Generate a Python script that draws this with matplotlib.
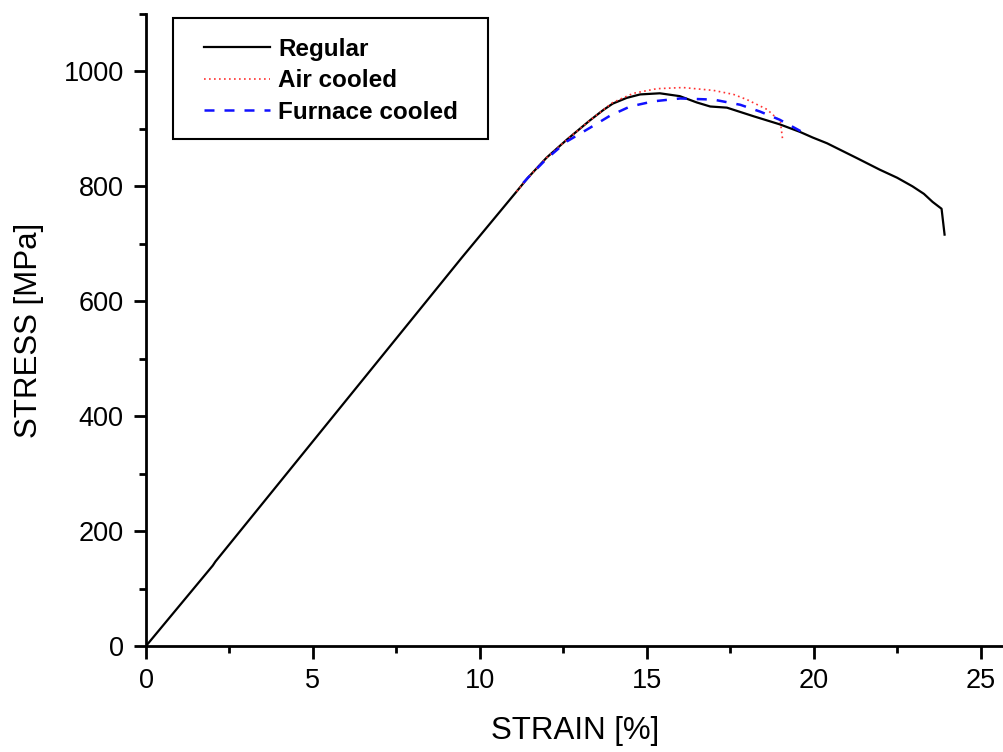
import numpy as np
import matplotlib.pyplot as plt
from matplotlib.ticker import MultipleLocator
from matplotlib.patches import Rectangle

plt.rcParams['font.family'] = ['Liberation Sans', 'DejaVu Sans']

# Regular
strain_reg = [0.0, 2.0, 2.08, 9.46, 11.1, 11.44, 12.0, 12.6, 13.3, 13.7, 13.98, 14.4, 14.8, 15.39, 15.99,
              16.5, 16.9, 17.4, 18.2, 18.98, 19.58, 19.97, 20.4, 20.78, 21.3, 21.98, 22.5, 22.96, 23.3,
              23.56, 23.83, 23.92]
stress_reg = [0, 140, 147, 676, 791, 815, 850, 881, 915, 933, 944, 954, 960, 962, 957,
              946, 939, 937, 922, 908, 895, 885, 875, 864, 849, 829, 815, 800, 787,
              773, 761, 716]

# Air cooled
strain_air = [11.1, 11.44, 12.0, 12.6, 13.3, 13.98, 14.6, 15.3, 16.08, 17.0, 17.6, 18.0, 18.6, 19.0, 19.07]
stress_air = [791, 815, 850, 881, 915, 946, 962, 970, 972, 967, 960, 951, 934, 913, 881]

# Furnace cooled
strain_fur = [11.3, 11.44, 12.0, 12.6, 13.3, 13.9, 14.5, 15.2, 16.0, 17.0, 17.8, 18.4, 18.98, 19.58, 19.8]
stress_fur = [806, 815, 848, 878, 902, 923, 939, 948, 953, 951, 942, 930, 916, 897, 890]

fig = plt.figure(figsize=(10.04, 7.52), dpi=100)
ax = fig.add_axes([146 / 1004, 1 - 646 / 752, 1 - 146 / 1004, (646 - 14) / 752])

ax.plot(strain_reg, stress_reg, color='black', linewidth=1.6, label='Regular')
ax.plot(strain_air, stress_air, color='#ff3030', linewidth=1.2, linestyle=(0, (1, 2)), label='Air cooled')
ax.plot(strain_fur, stress_fur, color='#1010ff', linewidth=1.8, linestyle=(0, (4, 4)), label='Furnace cooled')

ax.set_xlim(0, 25.7)
ax.set_ylim(0, 1100)
ax.xaxis.set_major_locator(MultipleLocator(5))
ax.xaxis.set_minor_locator(MultipleLocator(2.5))
ax.yaxis.set_minor_locator(MultipleLocator(100))
ax.set_yticks([0, 200, 400, 600, 800, 1000])

for s in ['top', 'right']:
    ax.spines[s].set_visible(False)
for s in ['left', 'bottom']:
    ax.spines[s].set_linewidth(2)

ax.tick_params(axis='both', which='major', direction='out', length=9, width=2, labelsize=19.5, pad=7)
ax.tick_params(axis='both', which='minor', direction='out', length=5, width=2)

ax.set_xlabel('STRAIN [%]', fontsize=22.5, labelpad=16)
ax.set_ylabel('STRESS [MPa]', fontsize=22.5, labelpad=14)

# legend without frame, box drawn separately
leg = ax.legend(loc='upper left', bbox_to_anchor=(204 / 1004, 1 - 38 / 752), bbox_transform=fig.transFigure,
                borderaxespad=0, frameon=False, borderpad=0,
                prop={'weight': 'bold', 'size': 17.5}, handlelength=2.7, handletextpad=0.35,
                labelspacing=0.34)
box = Rectangle((173 / 1004, 1 - 139 / 752), (488 - 173) / 1004, (139 - 18) / 752,
                transform=fig.transFigure, fill=False, edgecolor='black', linewidth=1.5)
fig.patches.append(box)

plt.savefig('out.png', dpi=100)
